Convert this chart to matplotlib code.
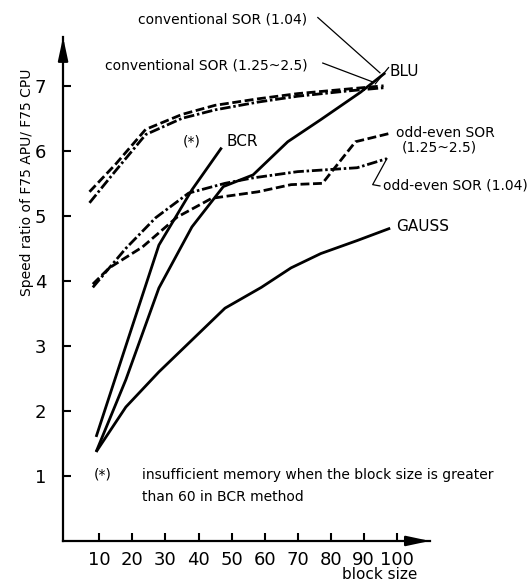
import matplotlib
matplotlib.use("Agg")
import matplotlib.pyplot as plt

# Block sizes and speed ratios
bs_blu = [9, 18, 28, 38, 47.5, 56.5, 67, 77, 89, 96.5]
blu = [1.37, 2.48, 3.89, 4.83, 5.45, 5.63, 6.14, 6.48, 6.9, 7.2]

bs_bcr = [9, 18, 28, 38, 47]
bcr = [1.6, 3.0, 4.55, 5.4, 6.05]

bs_gauss = [9, 18, 28, 38, 48, 59, 68, 77, 88, 98]
gauss = [1.37, 2.06, 2.6, 3.09, 3.58, 3.9, 4.2, 4.42, 4.62, 4.81]

bs_conv = [7, 15, 24, 35, 45, 58, 70, 85, 96]
conv_104 = [5.2, 5.7, 6.25, 6.5, 6.63, 6.75, 6.84, 6.92, 6.97]
conv_125 = [5.37, 5.8, 6.33, 6.56, 6.7, 6.8, 6.88, 6.95, 7.0]

bs_oe104 = [8, 18, 27, 37, 48, 56, 70, 88, 97]
oe_104 = [3.9, 4.5, 4.97, 5.35, 5.5, 5.58, 5.68, 5.74, 5.88]

bs_oe125 = [8, 13, 23, 33.5, 44, 58, 68, 77.5, 87.5, 98]
oe_125 = [3.95, 4.2, 4.52, 4.98, 5.27, 5.37, 5.48, 5.5, 6.14, 6.27]

x_ticks = [10, 20, 30, 40, 50, 60, 70, 80, 90, 100]
y_ticks = [1, 2, 3, 4, 5, 6, 7]

plt.rcParams["font.family"] = ["DejaVu Sans"]

fig = plt.figure(figsize=(5.3, 5.88), dpi=100)
ax = fig.add_axes([0.119, 0.080, 0.692, 0.857])
ax.set_xlim(-1, 110)
ax.set_ylim(0, 7.75)

LW = 2.0
DASH = (3.2, 1.3)
DASHDOT = (3.8, 1.0, 0.9, 1.0)

ax.plot(bs_blu, blu, color="black", lw=LW, solid_capstyle="butt")
ax.plot(bs_bcr, bcr, color="black", lw=LW, solid_capstyle="butt")
ax.plot(bs_gauss, gauss, color="black", lw=LW, solid_capstyle="butt")
ax.plot(bs_conv, conv_104, color="black", lw=LW, dashes=DASHDOT)
ax.plot(bs_conv, conv_125, color="black", lw=LW, dashes=DASH)
ax.plot(bs_oe104, oe_104, color="black", lw=LW, dashes=DASHDOT)
ax.plot(bs_oe125, oe_125, color="black", lw=LW, dashes=DASH)

# leader lines for the labels
lead = dict(color="black", lw=0.9, clip_on=False)
ax.plot([76.1, 94.9], [8.05, 7.2], **lead)
ax.plot([77.6, 92.7], [7.35, 7.06], **lead)
ax.plot([bs_oe104[-1], 92.7, 94.9], [oe_104[-1], 5.48, 5.46], **lead)
ax.plot([bs_blu[-1] - 3, bs_blu[-1] + 1], [blu[-1] - 0.17, blu[-1] + 0.08], **lead)

FS = 10
ax.text(21.8, 8.02, "conventional SOR (1.04)", fontsize=FS, va="center")
ax.text(11.8, 7.32, "conventional SOR (1.25~2.5)", fontsize=FS, va="center")
ax.text(97.9, 7.22, "BLU", fontsize=FS + 1, va="center")
ax.text(35.3, 6.14, "(*)", fontsize=FS, va="center")
ax.text(48.6, 6.14, "BCR", fontsize=FS + 1, va="center")
ax.text(99.7, 6.28, "odd-even SOR", fontsize=FS, va="center")
ax.text(101.5, 6.05, "(1.25~2.5)", fontsize=FS, va="center")
ax.text(95.8, 5.47, "odd-even SOR (1.04)", fontsize=FS, va="center")
ax.text(99.7, 4.83, "GAUSS", fontsize=FS + 1, va="center")

ax.text(8.2, 1.02, "(*)", fontsize=FS, va="center")
ax.text(23.0, 1.02, "insufficient memory when the block size is greater",
        fontsize=FS, va="center")
ax.text(23.0, 0.68, "than 60 in BCR method", fontsize=FS, va="center")

# axes with arrow heads
for side in ("top", "right"):
    ax.spines[side].set_visible(False)
for side in ("left", "bottom"):
    ax.spines[side].set_linewidth(1.6)
arrow = dict(arrowstyle="-|>,head_length=1.4,head_width=0.3", color="black",
             lw=1.6, shrinkA=0, shrinkB=0)
ax.annotate("", xy=(1.0, 0), xytext=(0.95, 0), xycoords="axes fraction",
            arrowprops=arrow)
ax.annotate("", xy=(0, 1.0), xytext=(0, 0.95), xycoords="axes fraction",
            arrowprops=arrow)

ax.set_xticks(x_ticks)
ax.set_xticklabels([str(t) for t in x_ticks])
ax.set_yticks(y_ticks)
ax.set_yticklabels([str(t) for t in y_ticks])
ax.tick_params(direction="in", length=6, width=1.5, labelsize=13)
ax.tick_params(axis="x", pad=7)
ax.tick_params(axis="y", pad=12)

ax.text(94.9, -0.52, "block size", fontsize=FS + 1, ha="center", va="center")
fig.text(27 / 530, 1 - 182 / 588, "Speed ratio of F75 APU/ F75 CPU",
         rotation=90, ha="center", va="center", fontsize=FS)

fig.savefig("out.png", dpi=100)
